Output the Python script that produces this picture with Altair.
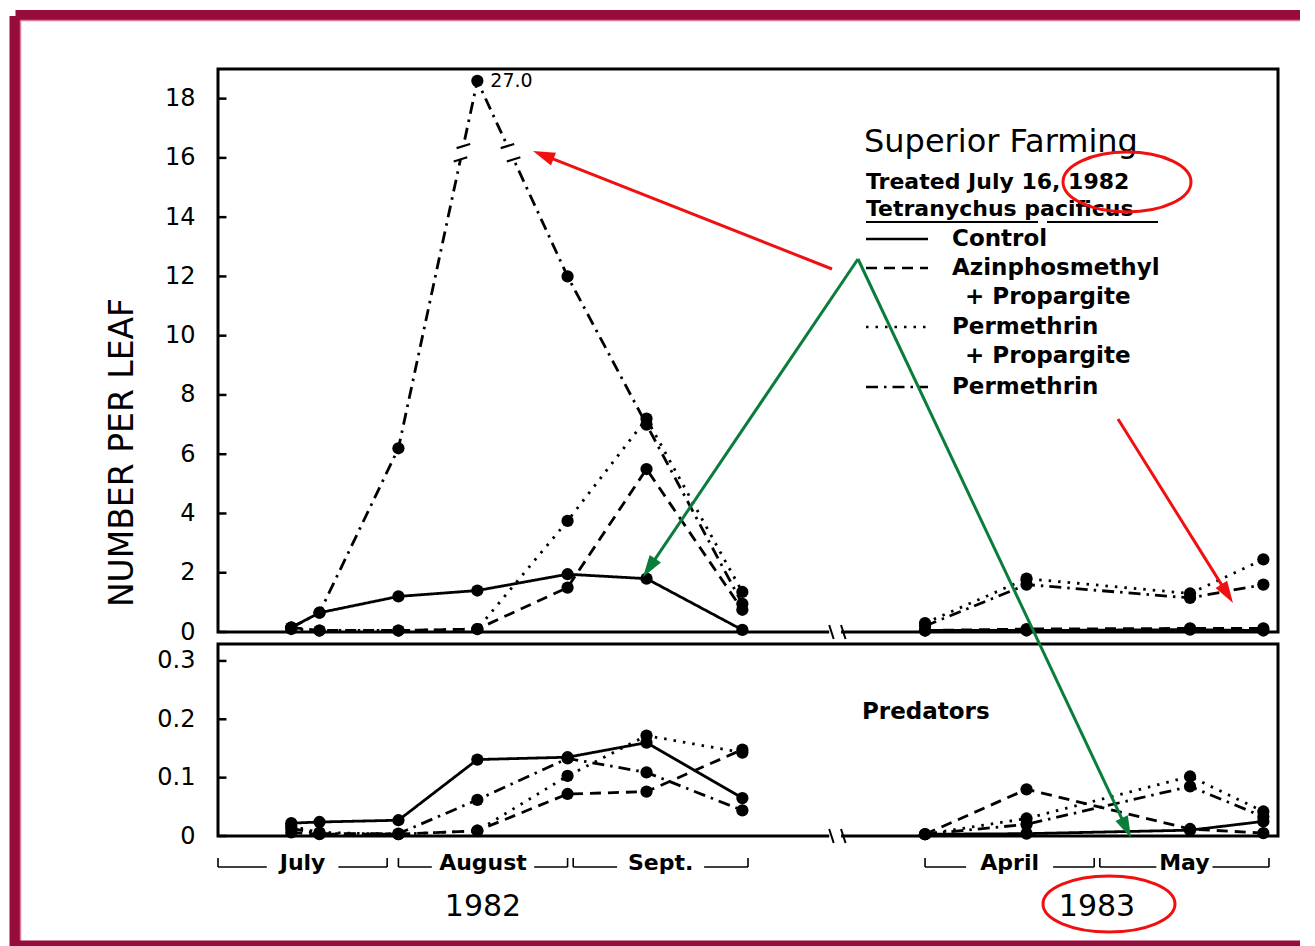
import math
import altair as alt
import pandas as pd

FONT = "DejaVu Sans"

# ---------------- data ----------------
series = ["Control", "Azinphosmethyl + Propargite", "Permethrin + Propargite", "Permethrin"]
dates_1982 = ["1982-07-14", "1982-07-19", "1982-08-02", "1982-08-16",
              "1982-09-01", "1982-09-15", "1982-10-02"]
dates_1983 = ["1983-04-01", "1983-04-19", "1983-05-18", "1983-05-31"]

# Tetranychus pacificus, number per leaf
mites_control_1982 = [0.15, 0.65, 1.2, 1.4, 1.95, 1.8, 0.07]
mites_azin_prop_1982 = [0.15, 0.05, 0.05, 0.1, 1.5, 5.5, 0.75]
mites_perm_prop_1982 = [0.1, 0.05, 0.05, 0.1, 3.75, 7.2, 1.35]
mites_perm_1982 = [0.15, 0.65, 6.2, 27.0, 12.0, 7.0, 0.95]
mites_control_1983 = [0.05, 0.05, 0.08, 0.05]
mites_azin_prop_1983 = [0.05, 0.1, 0.12, 0.12]
mites_perm_prop_1983 = [0.3, 1.8, 1.3, 2.45]
mites_perm_1983 = [0.2, 1.6, 1.15, 1.6]

# Predators, number per leaf
pred_control_1982 = [0.022, 0.024, 0.027, 0.131, 0.135, 0.16, 0.065]
pred_azin_prop_1982 = [0.006, 0.003, 0.003, 0.009, 0.072, 0.076, 0.148]
pred_perm_prop_1982 = [0.017, 0.006, 0.003, 0.009, 0.103, 0.172, 0.143]
pred_perm_1982 = [0.013, 0.004, 0.004, 0.062, 0.133, 0.109, 0.044]
pred_control_1983 = [0.003, 0.004, 0.01, 0.025]
pred_azin_prop_1983 = [0.003, 0.08, 0.012, 0.005]
pred_perm_prop_1983 = [0.003, 0.03, 0.102, 0.042]
pred_perm_1983 = [0.003, 0.02, 0.085, 0.033]

mite_ticks = [0, 2, 4, 6, 8, 10, 12, 14, 16, 18]
pred_ticks = [0, 0.1, 0.2, 0.3]

months = ["July", "August", "Sept.", "April", "May"]
month_starts = ["1982-07-01", "1982-08-02", "1982-09-02", "1983-04-01", "1983-05-02"]
month_ends = ["1982-07-31", "1982-09-01", "1982-10-03", "1983-05-01", "1983-06-01"]
years = ["1982", "1983"]

legend_title = "Superior Farming"
legend_sub = "Treated July 16, 1982"
legend_species = ["Tetranychus", "pacificus"]

# ---------------- layout constants ----------------
W, H_TOP, H_BOT = 1060, 563, 192
X_DOMAIN = [0, 188]
PX_PER_DAY = W / (X_DOMAIN[1] - X_DOMAIN[0])
APRIL_1983_POS = 125.4          # broken time axis: where April 1983 starts
TOP_DOMAIN = [0, 19]
BOT_DOMAIN = [0, 0.329]
CAP = 18.6                      # off-scale values drawn at the top (axis break)
BREAK_Y = [15.95, 16.4]
FRAME_BREAK_DAYS = [108.4, 110.5]
X0, TOP0, BOT0 = 218, 68, 643   # page position of the panel origins

dash_range = [[1, 0], [11, 7], [2.5, 7], [12, 6, 2.5, 6]]
dash_of = dict(zip(series, dash_range))


def axis_day(d):
    d = pd.Timestamp(d)
    if d.year == 1982:
        return float((d - pd.Timestamp("1982-07-01")).days)
    return APRIL_1983_POS + (d - pd.Timestamp("1983-04-01")).days


def build(v82, v83, cap=None):
    rows = []
    for s, a, b in zip(series, v82, v83):
        for dates, vals, yr in ((dates_1982, a, "1982"), (dates_1983, b, "1983")):
            for d, v in zip(dates, vals):
                pv = min(v, cap) if cap is not None else v
                rows.append(dict(series=s, seg=s + yr, pos=axis_day(d), value=v, plot_value=pv))
    return pd.DataFrame(rows)


mites = build([mites_control_1982, mites_azin_prop_1982, mites_perm_prop_1982, mites_perm_1982],
              [mites_control_1983, mites_azin_prop_1983, mites_perm_prop_1983, mites_perm_1983], CAP)
preds = build([pred_control_1982, pred_azin_prop_1982, pred_perm_prop_1982, pred_perm_1982],
              [pred_control_1983, pred_azin_prop_1983, pred_perm_prop_1983, pred_perm_1983])

ONE = pd.DataFrame({"k": [0]})
XS = alt.Scale(domain=X_DOMAIN, nice=False, zero=False)


def label(txt, x, y, size, weight="normal", align="left", color="black"):
    return alt.Chart(ONE).mark_text(text=txt, font=FONT, fontSize=size, fontWeight=weight,
                                    align=align, baseline="middle", color=color).encode(
        x=alt.value(x), y=alt.value(y))


def seg(x1, y1, x2, y2, color="black", width=2.0, dash=None):
    kw = dict(color=color, strokeWidth=width)
    if dash is not None:
        kw["strokeDash"] = dash
    return alt.Chart(ONE).mark_rule(**kw).encode(
        x=alt.value(x1), y=alt.value(y1), x2=alt.value(x2), y2=alt.value(y2))


def panel_layers(df, ydomain, ticks, height, axis):
    ys = alt.Scale(domain=ydomain, nice=False, zero=False)

    def Y(field):
        return alt.Y(field, scale=ys, axis=axis)

    dash = alt.StrokeDash("series:N", scale=alt.Scale(domain=series, range=dash_range), legend=None)
    base = alt.Chart(df).encode(x=alt.X("pos:Q", scale=XS, axis=None))
    lines = base.mark_line(color="black", strokeWidth=2.8).encode(
        y=Y("plot_value:Q"), strokeDash=dash, detail="seg:N", order="pos:Q")
    pts = base.mark_circle(color="black", size=150, opacity=1).encode(y=Y("plot_value:Q"))
    tdf = pd.DataFrame({"plot_value": ticks, "a": X_DOMAIN[0], "b": X_DOMAIN[0] + 1.5})
    tick_layer = alt.Chart(tdf).mark_rule(color="black", strokeWidth=2.5).encode(
        x=alt.X("a:Q", scale=XS, axis=None), x2="b:Q", y=Y("plot_value:Q"))
    gap = alt.Chart(pd.DataFrame({"a": [FRAME_BREAK_DAYS[0]], "b": [FRAME_BREAK_DAYS[1]]})).mark_rule(
        color="white", strokeWidth=7).encode(x=alt.X("a:Q", scale=XS, axis=None), x2="b:Q",
                                             y=alt.value(height))
    sl = pd.DataFrame({"a": FRAME_BREAK_DAYS, "b": [d + 0.8 for d in FRAME_BREAK_DAYS]})
    slashes = alt.Chart(sl).mark_rule(color="black", strokeWidth=2).encode(
        x=alt.X("a:Q", scale=XS, axis=None), x2="b:Q", y=alt.value(height - 7), y2=alt.value(height + 7))
    return Y, [lines, pts, tick_layer, gap, slashes]


# ---------------- top panel ----------------
top_axis = alt.Axis(values=mite_ticks, ticks=False, tickSize=0, domain=False, grid=False,
                    labelFont=FONT, labelFontSize=24, labelPadding=23, labelColor="black",
                    labelFlush=False, labelOverlap=False,
                    title="NUMBER PER LEAF", titleFont=FONT, titleFontSize=33, titleFontWeight="normal",
                    titleColor="black", titleAngle=270, titleAlign="center", titleBaseline="middle",
                    titleX=-96, titleY=383)
Ytop, top_layers = panel_layers(mites, TOP_DOMAIN, mite_ticks, H_TOP, top_axis)

# off-scale value label and axis-break marks on the peak
peak = mites[mites.value > CAP]
peak_text = alt.Chart(peak).mark_text(font=FONT, fontSize=19, align="left", baseline="middle",
                                      dx=13, color="black").encode(
    x=alt.X("pos:Q", scale=XS, axis=None), y=Ytop("plot_value:Q"),
    text=alt.Text("value:Q", format=".1f"))

gap_rows, mark_rows = [], []
for _, pk in peak.iterrows():
    grp = mites[mites.seg == pk.seg].sort_values("pos").reset_index(drop=True)
    i = grp.index[grp.pos == pk.pos][0]
    for j in (i - 1, i + 1):
        p0, v0 = grp.pos[j], grp.plot_value[j]
        xs = [p0 + (yb - v0) / (pk.plot_value - v0) * (pk.pos - p0) for yb in BREAK_Y]
        gap_rows.append(dict(x=xs[0], plot_value=BREAK_Y[0], x2=xs[1], y2=BREAK_Y[1]))
        for xb, yb in zip(xs, BREAK_Y):
            mark_rows.append(dict(x=xb - 1.2, plot_value=yb - 0.07, x2=xb + 1.2, y2=yb + 0.07))
break_gap = alt.Chart(pd.DataFrame(gap_rows)).mark_rule(color="white", strokeWidth=5).encode(
    x=alt.X("x:Q", scale=XS, axis=None), x2="x2:Q", y=Ytop("plot_value:Q"), y2="y2:Q")
break_marks = alt.Chart(pd.DataFrame(mark_rows)).mark_rule(color="black", strokeWidth=2.2).encode(
    x=alt.X("x:Q", scale=XS, axis=None), x2="x2:Q", y=Ytop("plot_value:Q"), y2="y2:Q")

# legend (hand-lettered style block)
legend = [
    label(legend_title, 864 - X0, 141 - TOP0, 32),
    label(legend_sub, 866 - X0, 181 - TOP0, 22, "bold"),
    label(" ".join(legend_species), 866 - X0, 208 - TOP0, 22, "bold"),
    seg(866 - X0, 221 - TOP0, 1038 - X0, 221 - TOP0, width=2),
    seg(1047 - X0, 221 - TOP0, 1158 - X0, 221 - TOP0, width=2),
]
legend_entries = [("Control", None, 238), ("Azinphosmethyl", "+ Propargite", 267),
                  ("Permethrin", "+ Propargite", 326), ("Permethrin", None, 386)]
for s, (l1, l2, yy) in zip(series, legend_entries):
    legend.append(seg(866 - X0, yy - TOP0, 928 - X0, yy - TOP0, width=2.6, dash=dash_of[s]))
    legend.append(label(l1, 952 - X0, yy - TOP0, 23, "bold"))
    if l2:
        legend.append(label(l2, 965 - X0, yy + 29 - TOP0, 23, "bold"))

top = alt.layer(*top_layers, break_gap, break_marks, peak_text, *legend).properties(width=W, height=H_TOP)

# ---------------- bottom panel ----------------
bot_axis = alt.Axis(values=pred_ticks, ticks=False, tickSize=0, domain=False, grid=False,
                    labelFont=FONT, labelFontSize=24, labelPadding=23, labelColor="black",
                    labelFlush=False, labelOverlap=False, title=None,
                    labelExpr="datum.value == 0 ? '0' : format(datum.value, '.1f')")
Ybot, bot_layers = panel_layers(preds, BOT_DOMAIN, pred_ticks, H_BOT, bot_axis)

extras = [label("Predators", 862 - X0, 711 - BOT0, 23, "bold")]

# month brackets under the axis
MONTH_FS = 22
br_rows, end_rows, mlab_rows = [], [], []
for m, s, e in zip(months, month_starts, month_ends):
    a, b = axis_day(s), axis_day(e)
    c = (a + b) / 2
    half = (len(m) * 0.7 * MONTH_FS / 2 + 5) / PX_PER_DAY
    br_rows += [dict(a=a, b=c - half), dict(a=c + half, b=b)]
    end_rows += [dict(a=a), dict(a=b)]
    mlab_rows.append(dict(c=c, m=m))
BR_Y, BR_TOP, MONTH_Y, YEAR_Y = 866 - BOT0, 857 - BOT0, 862 - BOT0, 906 - BOT0
extras.append(alt.Chart(pd.DataFrame(br_rows)).mark_rule(color="black", strokeWidth=1.6).encode(
    x=alt.X("a:Q", scale=XS, axis=None), x2="b:Q", y=alt.value(BR_Y)))
extras.append(alt.Chart(pd.DataFrame(end_rows)).mark_rule(color="black", strokeWidth=1.6).encode(
    x=alt.X("a:Q", scale=XS, axis=None), y=alt.value(BR_TOP), y2=alt.value(BR_Y)))
extras.append(alt.Chart(pd.DataFrame(mlab_rows)).mark_text(
    font=FONT, fontSize=MONTH_FS, fontWeight="bold", baseline="middle", align="center", color="black").encode(
    x=alt.X("c:Q", scale=XS, axis=None), y=alt.value(MONTH_Y), text="m:N"))
yr_rows = []
for yr in years:
    spans = [(axis_day(s), axis_day(e)) for s, e in zip(month_starts, month_ends) if s.startswith(yr)]
    yr_rows.append(dict(c=(spans[0][0] + spans[-1][1]) / 2, y=yr))
extras.append(alt.Chart(pd.DataFrame(yr_rows)).mark_text(
    font=FONT, fontSize=30, baseline="middle", align="center", color="black").encode(
    x=alt.X("c:Q", scale=XS, axis=None), y=alt.value(YEAR_Y), text="y:N"))

# ---------------- overlay annotations (arrows, ellipses, page frame) ----------------
HEAD = "M0,0 L0.62,2 L-0.62,2 Z"


def arrow(x1, y1, x2, y2, color):
    ax1, ay1, ax2, ay2 = x1 - X0, y1 - BOT0, x2 - X0, y2 - BOT0
    dx, dy = ax2 - ax1, ay2 - ay1
    L = math.hypot(dx, dy)
    ux, uy = dx / L, dy / L
    ang = (math.degrees(math.atan2(dx, -dy)) + 360) % 360
    line = seg(ax1, ay1, ax2 - ux * 14, ay2 - uy * 14, color=color, width=3)
    head = alt.Chart(ONE).mark_point(shape=HEAD, filled=True, color=color, opacity=1, size=484,
                                     angle=ang, strokeWidth=0).encode(x=alt.value(ax2), y=alt.value(ay2))
    return [line, head]


def ellipse(cx, cy, rx, ry, color):
    b = ry / rx
    k = 0.5523
    path = (f"M1,0 C1,{k*b:.4f} {k:.4f},{b:.4f} 0,{b:.4f} "
            f"C{-k:.4f},{b:.4f} -1,{k*b:.4f} -1,0 "
            f"C-1,{-k*b:.4f} {-k:.4f},{-b:.4f} 0,{-b:.4f} "
            f"C{k:.4f},{-b:.4f} 1,{-k*b:.4f} 1,0 Z")
    return alt.Chart(ONE).mark_point(shape=path, filled=False, stroke=color, strokeWidth=3, opacity=1,
                                     size=(2 * rx) ** 2).encode(x=alt.value(cx - X0), y=alt.value(cy - BOT0))


RED, GREEN, FRAME = "#f01010", "#0b7d3b", "#960c3c"
ann = []
ann += arrow(832, 268, 533, 150, RED)
ann += arrow(1118, 418, 1233, 602, RED)
ann += arrow(858, 258, 643, 576, GREEN)
ann += arrow(858, 258, 1131, 837, GREEN)
ann.append(ellipse(1127, 181, 64, 30, RED))
ann.append(ellipse(1109, 903, 66, 28, RED))
# page frame (left, top, bottom) -- placed so the content lands where it does in the original
FL, FT = 15, 14
ann.append(seg(FL - X0, FT + 1 - BOT0, FL - X0, 946 - BOT0, color=FRAME, width=11))
ann.append(seg(FL + 0.5 - X0, FT - BOT0, 1300 - X0, FT - BOT0, color=FRAME, width=10))
ann.append(seg(FL + 0.5 - X0, 943 - BOT0, 1300 - X0, 943 - BOT0, color=FRAME, width=7))
ann.append(seg(FL + 5.5 - X0, FT + 5.5 - BOT0, 1300 - X0, FT + 5.5 - BOT0, color="#e07a98", width=1.5))
ann.append(seg(FL + 5.5 - X0, FT + 5.5 - BOT0, FL + 5.5 - X0, 939 - BOT0, color="#e07a98", width=1.5))

bottom = alt.layer(*bot_layers, *extras, *ann).properties(width=W, height=H_BOT)

chart = alt.vconcat(top, bottom, spacing=12, bounds="flush").properties(
    padding=0, background="white").configure_view(stroke="black", strokeWidth=3)

chart.save("out.html", embed_options={"renderer": "svg", "actions": False})
